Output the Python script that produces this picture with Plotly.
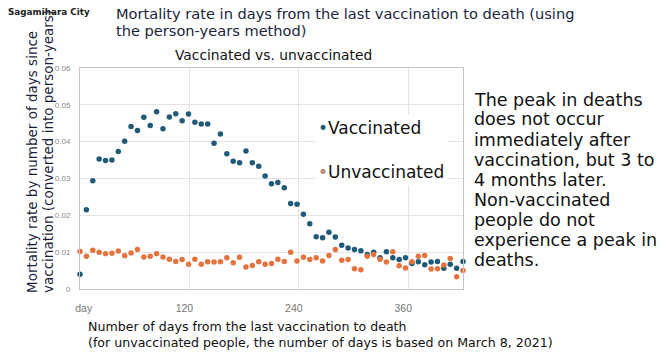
import plotly.graph_objects as go

days = list(range(0, 421, 7))

vaccinated = [
    0.0040, 0.0215, 0.0294, 0.0353, 0.0349, 0.0350, 0.0373, 0.0401, 0.0441, 0.0430,
    0.0466, 0.0444, 0.0481, 0.0435, 0.0467, 0.0476, 0.0457, 0.0475, 0.0453, 0.0448,
    0.0448, 0.0396, 0.0421, 0.0367, 0.0347, 0.0343, 0.0375, 0.0343, 0.0333, 0.0307,
    0.0286, 0.0289, 0.0275, 0.0232, 0.0230, 0.0203, 0.0177, 0.0142, 0.0139, 0.0154,
    0.0141, 0.0119, 0.0111, 0.0107, 0.0104, 0.0094, 0.0100, 0.0085, 0.0101, 0.0085,
    0.0080, 0.0085, 0.0069, 0.0074, 0.0066, 0.0073, 0.0075, 0.0056, 0.0067, 0.0056,
    0.0075,
]

unvaccinated = [
    0.0102, 0.0089, 0.0105, 0.0100, 0.0096, 0.0097, 0.0103, 0.0090, 0.0098, 0.0107,
    0.0087, 0.0089, 0.0096, 0.0087, 0.0081, 0.0075, 0.0080, 0.0067, 0.0081, 0.0067,
    0.0074, 0.0073, 0.0074, 0.0085, 0.0071, 0.0086, 0.0060, 0.0064, 0.0074, 0.0067,
    0.0069, 0.0081, 0.0075, 0.0100, 0.0076, 0.0086, 0.0080, 0.0085, 0.0076, 0.0091,
    0.0107, 0.0078, 0.0080, 0.0055, 0.0052, 0.0089, 0.0094, 0.0081, 0.0073, 0.0101,
    0.0063, 0.0057, 0.0074, 0.0089, 0.0091, 0.0054, 0.0055, 0.0065, 0.0083, 0.0033,
    0.0050,
]

x_tickvals = [0, 120, 240, 360]
x_ticktext = ["\u00a0" * 6 + "day", "120", "240", "360"]
y_tickvals = [0, 0.01, 0.02, 0.03, 0.04, 0.05, 0.06]

note_lines = [
    "The peak in deaths",
    "does not occur",
    "immediately after",
    "vaccination, but 3 to",
    "4 months later.",
    "Non-vaccinated",
    "people do not",
    "experience a peak in",
    "deaths.",
]

W, H = 669, 359
L, R, T, B = 80, 463, 68, 289   # plot area in pixels

def px(x):
    return (x - L) / (R - L)

def py(y):
    return (B - y) / (B - T)

FONT = "DejaVu Sans"
TICKFONT = "Liberation Sans"
BLUE = "#1f5a78"
ORANGE = "#e4733d"
NAVY = "#1a1f3c"

fig = go.Figure()
fig.add_trace(go.Scatter(x=days, y=vaccinated, mode="markers", name="Vaccinated",
                         marker=dict(color=BLUE, size=5.5), cliponaxis=False, showlegend=False))
fig.add_trace(go.Scatter(x=days, y=unvaccinated, mode="markers", name="Unvaccinated",
                         marker=dict(color=ORANGE, size=5.5), cliponaxis=False, showlegend=False))

ann = []
def add(text, x, y, size, color="#111", xanchor="left", yanchor="middle", family=FONT, **kw):
    ann.append(dict(text=text, x=px(x), y=py(y), xref="paper", yref="paper",
                    xanchor=xanchor, yanchor=yanchor, showarrow=False,
                    font=dict(family=family, size=size, color=color), **kw))

add("<b>Sagamihara City</b>", 6, 11.5, 8.8, "#222")
add("Mortality rate in days from the last vaccination to death (using", 114, 13.5, 14.6, NAVY)
add("the person-years method)", 114, 30.5, 14.6, NAVY)
add("Vaccinated vs. unvaccinated", 273, 55, 13.8, "#111", xanchor="center")

add("Mortality rate by number of days since", 32, 295, 13.5, NAVY,
    xanchor="center", yanchor="bottom", textangle=-90)
add("vaccination (converted into person-years)", 47.5, 295, 13.5, NAVY,
    xanchor="center", yanchor="bottom", textangle=-90)

add("Number of days from the last vaccination to death", 86, 326, 12.6, "#111")
add("(for unvaccinated people, the number of days is based on March 8, 2021)", 86, 342, 12.6, "#111")

add(f"<span style='color:{BLUE}'>•</span>Vaccinated<br><br><span style='color:#b98a72'>•</span>Unvaccinated",
    314, 149.5, 17, "#111", bgcolor="white", borderpad=3, align="left")

for i, line in enumerate(note_lines):
    add(line, 472, 99.5 + 20 * i, 17.5, "#111")

fig.update_layout(
    width=W, height=H,
    margin=dict(l=L, r=W - R, t=T, b=H - B, pad=0),
    paper_bgcolor="white", plot_bgcolor="white",
    annotations=ann,
    font=dict(family=FONT),
    xaxis=dict(range=[0, 420], tickvals=x_tickvals, ticktext=x_ticktext,
               showgrid=True, gridcolor="#e4e4e4", gridwidth=1,
               showline=True, linecolor="#c4c4c4", linewidth=1, mirror=True,
               zeroline=False, ticks="", ticklabelstandoff=9, ticklabelshift=-5,
               tickfont=dict(family=TICKFONT, size=10.5, color="#777")),
    yaxis=dict(range=[0, 0.06], tickvals=y_tickvals,
               showgrid=True, gridcolor="#e4e4e4", gridwidth=1,
               showline=True, linecolor="#c4c4c4", linewidth=1, mirror=True,
               zeroline=False, ticks="", ticklabelstandoff=7,
               tickfont=dict(family=TICKFONT, size=8, color="#888")),
)

fig.write_html("out.html", config={"displayModeBar": False},
               post_script="document.body.style.margin='0';")
